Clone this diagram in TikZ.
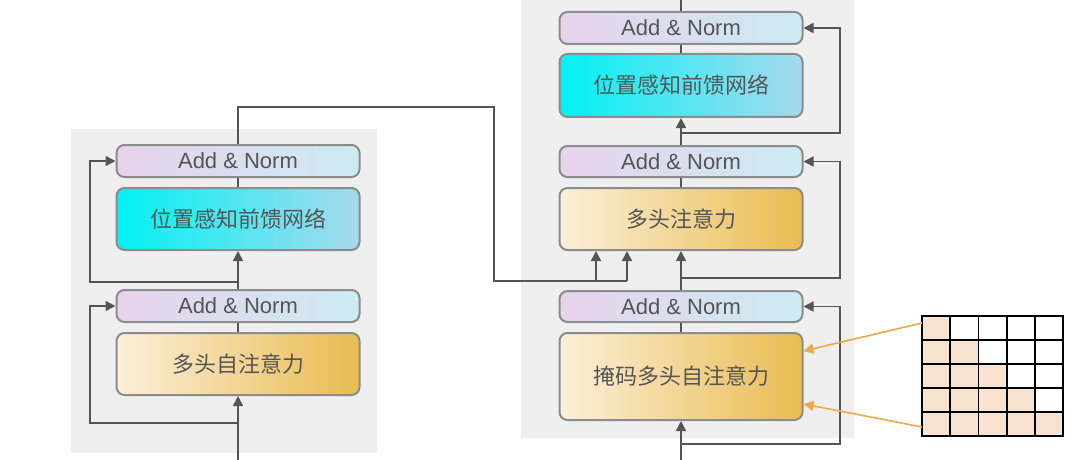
\documentclass[tikz,border=0pt]{standalone}
\usepackage{fontspec}
\setsansfont{Liberation Sans}
\newfontfamily\cjk{Noto Sans CJK SC}
\usetikzlibrary{arrows.meta}
\definecolor{panelc}{HTML}{EFEFEF}
\definecolor{linec}{HTML}{555555}
\definecolor{borderc}{HTML}{8C8C8C}
\definecolor{txtc}{HTML}{555555}
\definecolor{anL}{HTML}{E8D3EC}
\definecolor{anM}{HTML}{DDE0EC}
\definecolor{anR}{HTML}{CDEBF3}
\definecolor{ffnL}{HTML}{00F2F4}
\definecolor{ffnR}{HTML}{A8D9EE}
\definecolor{attL}{HTML}{FCEFDA}
\definecolor{attR}{HTML}{E9BC50}
\definecolor{peach}{HTML}{F8E2D0}
\definecolor{orangec}{HTML}{F0A84A}
\tikzset{
  box/.style={draw=borderc, line width=2pt, rounded corners=8pt, minimum width=243pt, inner sep=0pt, text=txtc},
  anbox/.style={box, minimum height=32pt, left color=anL, middle color=anM, right color=anR, font=\sffamily\fontsize{22}{22}\selectfont},
  ffnbox/.style={box, minimum height=62pt, left color=ffnL, right color=ffnR, font=\cjk\fontsize{22}{22}\selectfont},
  attbox/.style={box, minimum height=62pt, left color=attL, right color=attR, font=\cjk\fontsize{22}{22}\selectfont},
  conn/.style={draw=linec, line width=1.6pt},
  arr/.style={conn, -{Triangle[width=10pt,length=10pt]}},
  oarr/.style={draw=orangec, line width=1.6pt, -{Triangle[width=10pt,length=10pt]}},
  gridline/.style={draw=black, line width=1.8pt}
}
\begin{document}
\begin{tikzpicture}[x=1pt,y=-1pt]
\useasboundingbox (0,0) rectangle (1080,460);
% panels
\fill[panelc] (71,129) rectangle (377,453);
\fill[panelc] (521,0) rectangle (854,438);
% left encoder
\node[anbox] (lan2) at (238,161) {Add \& Norm};
\node[ffnbox] (lffn) at (238,219) {位置感知前馈网络};
\node[anbox] (lan1) at (238,306) {Add \& Norm};
\node[attbox] (lattn) at (238,364) {多头自注意力};
% right decoder
\node[anbox] (ran3) at (681,28) {Add \& Norm};
\node[ffnbox, minimum height=63pt] (rffn) at (681,85.5) {位置感知前馈网络};
\node[anbox, minimum height=31pt] (ran2) at (681,161.5) {Add \& Norm};
\node[attbox] (rattn) at (681,219) {多头注意力};
\node[anbox, minimum height=31pt] (ran1) at (681,306.5) {Add \& Norm};
\node[attbox, minimum height=87pt] (rmask) at (681,376.5) {掩码多头自注意力};
% left connectors
\coordinate (lin) at (238,460);
\coordinate (l1s) at (238,423);
\coordinate (l1c) at (90,423);
\coordinate (l2s) at (238,282);
\coordinate (l2c) at (90,282);
\draw[arr] (lin) -- (lattn.south);
\draw[arr] (l1s) -- (l1c) |- (lan1.west);
\draw[conn] (lattn.north) -- (lan1.south);
\draw[arr] (lan1.north) -- (lffn.south);
\draw[arr] (l2s) -- (l2c) |- (lan2.west);
\draw[conn] (lffn.north) -- (lan2.south);
% cross connection
\coordinate (c1) at (238,107);
\coordinate (c2) at (494,107);
\coordinate (c3) at (494,281);
\coordinate (c4) at (596,281);
\coordinate (c5) at (627,281);
\draw[conn] (lan2.north) -- (c1) -- (c2) -- (c3) -- (c5);
\draw[arr] (c4) -- (c4 |- rattn.south);
\draw[arr] (c5) -- (c5 |- rattn.south);
% right connectors
\coordinate (rin) at (681,460);
\coordinate (r1s) at (681,444);
\coordinate (r1c) at (840,444);
\coordinate (r2s) at (681,278);
\coordinate (r2c) at (840,278);
\coordinate (r3s) at (681,133);
\coordinate (r3c) at (840,133);
\coordinate (rout) at (681,0);
\draw[arr] (rin) -- (rmask.south);
\draw[arr] (r1s) -- (r1c) |- (ran1.east);
\draw[conn] (rmask.north) -- (ran1.south);
\draw[arr] (ran1.north) -- (rattn.south);
\draw[arr] (r2s) -- (r2c) |- (ran2.east);
\draw[conn] (rattn.north) -- (ran2.south);
\draw[arr] (ran2.north) -- (rffn.south);
\draw[arr] (r3s) -- (r3c) |- (ran3.east);
\draw[conn] (rffn.north) -- (ran3.south);
\draw[conn] (ran3.north) -- (rout);
% mask grid
\foreach \i in {0,...,4}{
  \foreach \j in {0,...,\i}{
    \fill[peach] (922+\j*28.2,316+\i*24) rectangle ++(28.2,24);
  }
}
\foreach \k in {1,...,4}{
  \draw[gridline] (922+\k*28.2,316) -- (922+\k*28.2,436);
  \draw[gridline] (922,316+\k*24) -- (1063,316+\k*24);
}
\node[gridline, minimum width=141pt, minimum height=120pt, inner sep=0pt, outer sep=0pt] (mask) at (992.5,376) {};
\coordinate (m1) at (922,323);
\coordinate (m2) at (922,427);
\draw[oarr] (m1) -- (rmask.east |- 0,351);
\draw[oarr] (m2) -- (rmask.east |- 0,404);
\end{tikzpicture}
\end{document}
